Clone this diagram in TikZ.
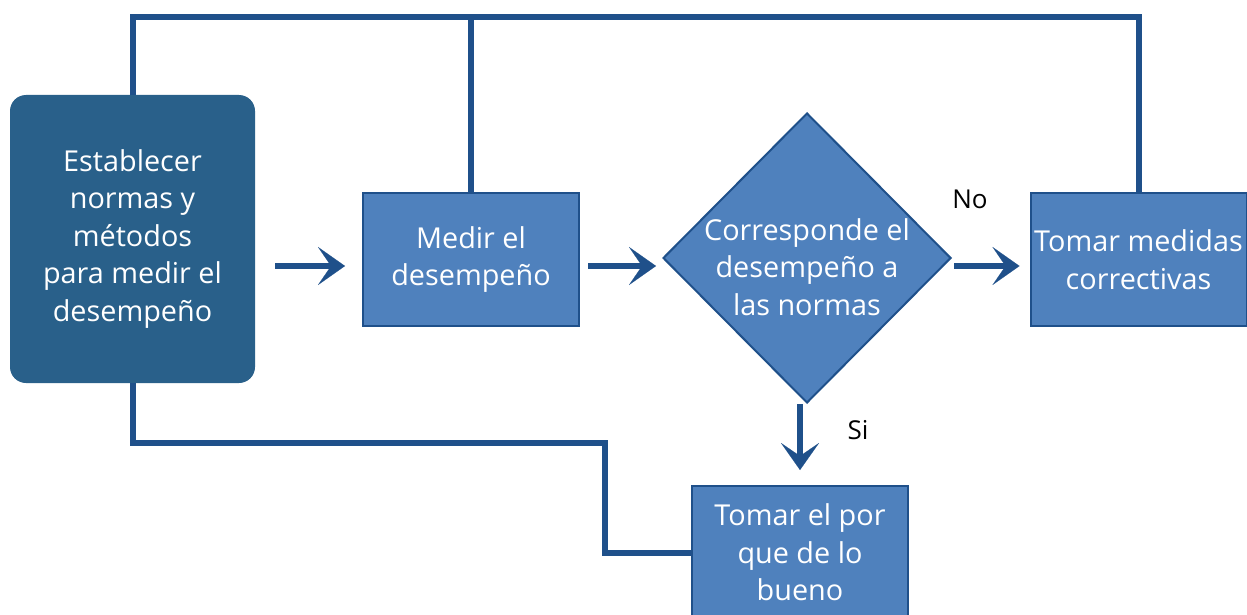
\documentclass[tikz,border=0pt]{standalone}
\usepackage{fontspec}
\setmainfont{Open Sans}
\usepackage{xcolor}
\usepackage{tikz}
\usetikzlibrary{calc}
\usetikzlibrary{arrows.meta}
\usetikzlibrary{shapes}

\definecolor{azuloscuro}{RGB}{41,96,138}
\definecolor{azulcaja}{RGB}{79,129,189}
\definecolor{azullinea}{RGB}{31,80,138}

\begin{document}
\begin{tikzpicture}[x=1pt,y=-1pt,font=\fontsize{28.8}{37.5}\selectfont,
      est style/.style={rectangle,rounded corners=16pt,fill=azuloscuro,text=white,
        minimum width=245pt,minimum height=288pt,align=center,inner sep=0pt},
      caja style/.style={rectangle,draw=azullinea,line width=2pt,fill=azulcaja,
        text=white,minimum width=216pt,minimum height=133pt,align=center,inner sep=0pt},
      rombo style/.style={diamond,draw=azullinea,line width=2pt,fill=azulcaja,
        minimum width=288pt,minimum height=290pt,inner sep=0pt},
      flecha style/.style={draw=azullinea,line width=6pt,
        -{Stealth[length=27pt,width=38pt,inset=13pt,line width=0.1pt]}},
      linea style/.style={draw=azullinea,line width=6pt}
      ]
      \useasboundingbox (0,0) rectangle (1247,615);

      \node[est style] (est) at (132.5,239) {Establecer\\normas y\\métodos\\para medir el\\desempeño};
      \node[caja style] (medir) at (471,259.5) {Medir el\\desempeño};
      \node[rombo style] (corr) at (807,258) {};
      \node[text=white,align=center,inner sep=0pt] (corrtxt) at (807,267) {Corresponde el\\desempeño a\\las normas};
      \node[caja style] (medidas) at (1138.5,259.5) {Tomar medidas\\correctivas};
      \node[caja style] (bueno) at (800,552.5) {Tomar el por\\que de lo\\bueno};

      \node[font=\fontsize{26}{30}\selectfont] (no) at (970,199) {No};
      \node[font=\fontsize{26}{30}\selectfont] (si) at (858,430) {Si};

      \coordinate (arriba) at (0,17);
      \coordinate (codo) at (605,443);
      \coordinate (eje) at (0,266);

      \draw[linea style] (est.north) -- (est.north |- arriba) -- (medidas.north |- arriba) -- (medidas.north);
      \draw[linea style] (medir.north) -- (medir.north |- arriba);
      \draw[linea style] (est.south) |- (codo) |- (bueno.west);

      \draw[flecha style,shorten <=20pt,shorten >=17pt] (est.east |- eje) -- (medir.west |- eje);
      \draw[flecha style,shorten <=8pt,shorten >=6pt] (medir.east |- eje) -- (corr.west |- eje);
      \draw[flecha style,shorten <=2pt,shorten >=10pt] (corr.east |- eje) -- (medidas.west |- eje);
      \draw[flecha style,shorten >=15pt] (bueno.north |- corr.south) -- (bueno.north);

    \end{tikzpicture}
\end{document}
